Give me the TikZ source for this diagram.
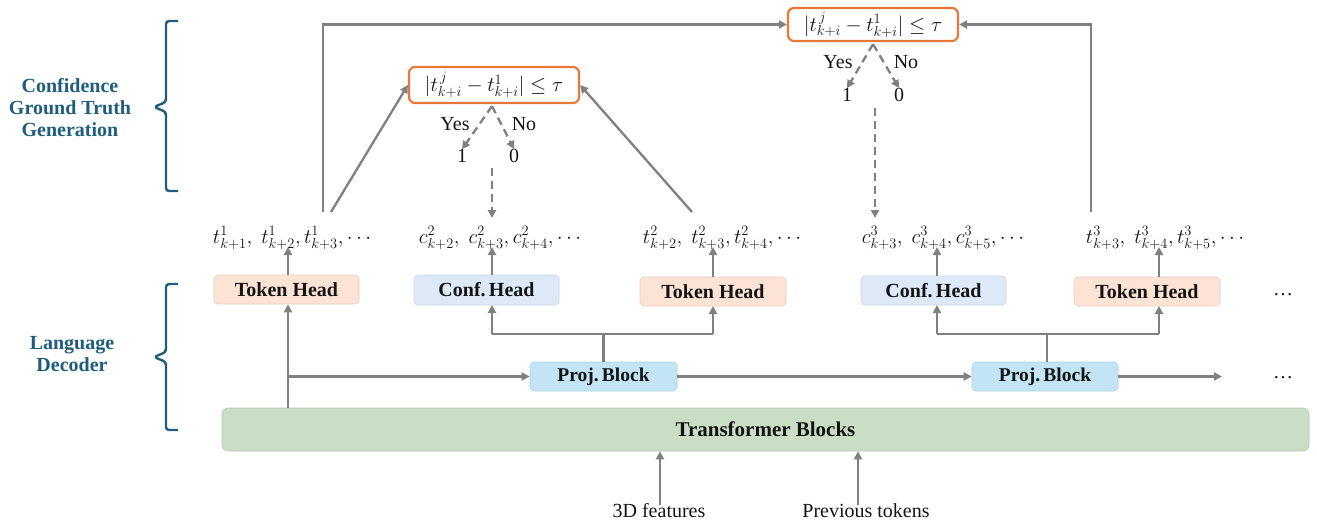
\documentclass[tikz,border=0pt]{standalone}
\usepackage{fontspec}
\setmainfont{Liberation Serif}
\usetikzlibrary{arrows.meta,calc}
\definecolor{arr}{RGB}{128,128,128}
\definecolor{lbl}{RGB}{31,92,126}
\definecolor{tokfill}{RGB}{251,227,214}
\definecolor{tokdraw}{RGB}{232,205,190}
\definecolor{conffill}{RGB}{221,233,246}
\definecolor{confdraw}{RGB}{200,214,230}
\definecolor{projfill}{RGB}{194,228,244}
\definecolor{projdraw}{RGB}{175,210,228}
\definecolor{trfill}{RGB}{201,222,197}
\definecolor{trdraw}{RGB}{180,202,176}
\definecolor{orng}{RGB}{232,120,56}
\definecolor{txt}{RGB}{20,20,20}
\tikzset{
  headbox/.style={rounded corners=4pt, inner sep=0pt, minimum width=145pt, minimum height=29pt, text=txt,
    font=\fontsize{20}{22}\selectfont\bfseries},
  tokbox/.style={headbox, fill=tokfill, draw=tokdraw, line width=0.6pt},
  confbox/.style={headbox, fill=conffill, draw=confdraw, line width=0.6pt},
  projbox/.style={headbox, fill=projfill, draw=projdraw, line width=0.6pt, minimum width=147pt,
    font=\fontsize{19.5}{22}\selectfont\bfseries},
  condbox/.style={rounded corners=6pt, draw=orng, line width=2.2pt, fill=white, inner sep=0pt,
    minimum width=170pt, minimum height=34pt, font=\fontsize{21.5}{24}\selectfont, text=txt},
  lst/.style={inner sep=0pt, font=\fontsize{22.5}{26}\selectfont, text=txt},
  small/.style={inner sep=0pt, font=\fontsize{20}{22}\selectfont, text=txt},
  conn/.style={draw=arr, line width=2.3pt},
  arrow/.style={conn, -{Triangle[length=8pt,width=8pt]}},
  darrow/.style={arrow, dash pattern=on 8pt off 5pt},
  brc/.style={draw=lbl, line width=2.4pt, rounded corners=3pt, line join=round},
  side/.style={text=lbl, align=center, font=\fontsize{20}{22}\selectfont\bfseries}
}
\begin{document}
\begin{tikzpicture}[x=1pt,y=-1pt]
\useasboundingbox (0,0) rectangle (1317,523);

% side labels and braces
\node[side] (lab1) at (70,108) {Confidence\\Ground Truth\\Generation};
\node[side] (lab2) at (72,354) {Language\\Decoder};
\draw[brc] (178,21) -- (166,21) -- (166,102) -- (154,107) -- (166,112) -- (166,191) -- (178,191);
\draw[brc] (178,284) -- (166,284) -- (166,352) -- (154,357) -- (166,362) -- (166,430) -- (178,430);

% transformer
\node[rounded corners=6pt, fill=trfill, draw=trdraw, line width=0.6pt, minimum width=1087pt, minimum height=43pt,
  inner sep=0pt, font=\fontsize{21}{24}\selectfont\bfseries, text=txt] (tr) at (765.5,429.5) {Transformer Blocks};

% inputs
\node[small, anchor=base] (f3d) at (659,517) {3D features};
\node[small, anchor=base] (prev) at (866,517) {Previous tokens};
\coordinate (f3dtop) at (660,505);
\coordinate (prevtop) at (858,505);
\draw[arrow] (f3dtop) -- (f3dtop |- tr.south);
\draw[arrow] (prevtop) -- (prevtop |- tr.south);

% proj blocks
\node[projbox] (p1) at (603.5,376.5) {Proj.\,Block};
\node[projbox, minimum width=146pt] (p2) at (1045,376.5) {Proj.\,Block};
\node[small] (dotsA) at (1283,378) {\ldots};
\node[small] (dotsB) at (1283,295) {\ldots};
\coordinate (p2out) at (1222,376.5);

% heads
\node[tokbox] (th1) at (286.5,289.5) {Token Head};
\node[confbox, minimum height=30pt] (ch1) at (486.5,290) {Conf.\,Head};
\node[tokbox, minimum width=146pt] (th2) at (713,291.5) {Token Head};
\node[confbox] (ch2) at (933.5,290.5) {Conf.\,Head};
\node[tokbox, minimum width=146pt] (th3) at (1147,291.5) {Token Head};

% decoder connections
\coordinate (split) at (288,376.5);
\draw[arrow] (split |- tr.north) -- (split |- th1.south);
\draw[arrow] (split) -- (p1.west);
\draw[arrow] (p1.east) -- (p2.west);
\draw[arrow] (p2.east) -- (p2out);

\coordinate (j1) at (603.5,334);
\draw[conn] (p1.north) -- (j1);
\draw[conn] (492,334) -- (713,334);
\draw[arrow] (492,334) -- (492,305);
\draw[arrow] (713,334) -- (713,306);

\coordinate (j2) at (1047,334);
\draw[conn] (p2.north -| j2) -- (j2);
\draw[conn] (937,334) -- (1159,334);
\draw[arrow] (937,334) -- (937,305);
\draw[arrow] (1159,334) -- (1159,306);

% token lists
\node[lst] (l1) at (292,238) {$t^1_{k+1},\ t^1_{k+2}, t^1_{k+3},\cdots$};
\node[lst] (l2) at (500,238) {$c^2_{k+2},\ c^2_{k+3}, c^2_{k+4},\cdots$};
\node[lst] (l3) at (722,238) {$t^2_{k+2},\ t^2_{k+3}, t^2_{k+4},\cdots$};
\node[lst] (l4) at (943,238) {$c^3_{k+3},\ c^3_{k+4}, c^3_{k+5},\cdots$};
\node[lst] (l5) at (1165,238) {$t^3_{k+3},\ t^3_{k+4}, t^3_{k+5},\cdots$};

\draw[arrow] (th1.north -| 288,0) -- (288,247);
\draw[arrow] (ch1.north -| 492,0) -- (492,247);
\draw[arrow] (th2.north -| 713,0) -- (713,247);
\draw[arrow] (ch2.north -| 937,0) -- (937,247);
\draw[arrow] (th3.north -| 1159,0) -- (1159,247);

% condition boxes
\node[condbox, minimum height=36pt] (c1) at (494,85) {$|t^{\,j}_{k+i}-t^1_{k+i}|\le\tau$};
\node[condbox, minimum height=33pt] (c2) at (873,24.5) {$|t^{\,j}_{k+i}-t^1_{k+i}|\le\tau$};

% feedback lines
\coordinate (s1) at (323,212);
\coordinate (s2) at (331,212);
\coordinate (s3) at (692,212);
\coordinate (s4) at (1091,212);
\draw[arrow] (s1) |- (c2.west);
\draw[arrow] (s2) -- (c1.west);
\draw[arrow] (s3) -- (c1.east);
\draw[arrow] (s4) |- (c2.east);

% yes / no for box 1
\node[small] (y1) at (455,124) {Yes};
\node[small] (n1) at (524,124) {No};
\node[small] (o1) at (462,156) {1};
\node[small] (z1) at (514,156) {0};
\draw[darrow] ($(c1.south)+(-2,2)$) -- (o1.north);
\draw[darrow] ($(c1.south)+(-2,2)$) -- (z1.north);
\draw[darrow] (492,168) -- (492,218);

% yes / no for box 2
\node[small] (y2) at (838,62) {Yes};
\node[small] (n2) at (906,62) {No};
\node[small] (o2) at (847,95) {1};
\node[small] (z2) at (899,95) {0};
\draw[darrow] ($(c2.south)+(0,2)$) -- (o2.north);
\draw[darrow] ($(c2.south)+(0,2)$) -- (z2.north);
\draw[darrow] (875,108) -- (875,218);
\end{tikzpicture}
\end{document}
